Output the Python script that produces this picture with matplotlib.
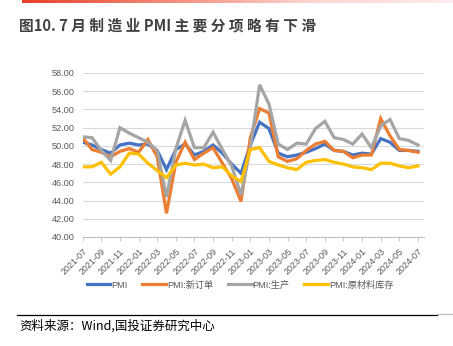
import matplotlib

matplotlib.use("Agg")
import matplotlib.pyplot as plt
import numpy as np
from matplotlib.colors import LinearSegmentedColormap
from matplotlib.lines import Line2D

plt.rcParams["font.family"] = ["Liberation Sans", "Noto Sans CJK SC", "DejaVu Sans"]

# ── Data ──────────────────────────────────────────────────────────────────────

MONTHS = [
    "2021-07", "2021-08", "2021-09", "2021-10", "2021-11", "2021-12",
    "2022-01", "2022-02", "2022-03", "2022-04", "2022-05", "2022-06",
    "2022-07", "2022-08", "2022-09", "2022-10", "2022-11", "2022-12",
    "2023-01", "2023-02", "2023-03", "2023-04", "2023-05", "2023-06",
    "2023-07", "2023-08", "2023-09", "2023-10", "2023-11", "2023-12",
    "2024-01", "2024-02", "2024-03", "2024-04", "2024-05", "2024-06",
    "2024-07",
]
PMI = [
    50.4, 50.1, 49.6, 49.2, 50.1, 50.3, 50.1, 50.2, 49.5, 47.4, 49.6, 50.2,
    49.0, 49.4, 50.1, 49.2, 48.0, 47.0, 50.1, 52.6, 51.9, 49.2, 48.8, 49.0,
    49.3, 49.7, 50.2, 49.5, 49.4, 49.0, 49.2, 49.1, 50.8, 50.4, 49.5, 49.5,
    49.4,
]
NEW_ORDERS = [
    50.9, 49.6, 49.3, 48.8, 49.4, 49.7, 49.3, 50.7, 48.8, 42.6, 48.2, 50.4,
    48.5, 49.2, 49.8, 48.1, 46.4, 43.9, 50.9, 54.1, 53.6, 48.8, 48.3, 48.6,
    49.5, 50.2, 50.5, 49.5, 49.4, 48.7, 49.0, 49.0, 53.0, 51.1, 49.6, 49.5,
    49.3,
]
PRODUCTION = [
    51.0, 50.9, 49.5, 48.4, 52.0, 51.4, 50.9, 50.4, 49.5, 44.4, 49.7, 52.8,
    49.8, 49.8, 51.5, 49.6, 47.8, 44.6, 49.8, 56.7, 54.6, 50.2, 49.6, 50.3,
    50.2, 51.9, 52.7, 50.9, 50.7, 50.2, 51.3, 49.8, 52.2, 52.9, 50.8, 50.6,
    50.1,
]
RAW_STOCK = [
    47.7, 47.7, 48.2, 46.9, 47.7, 49.2, 49.1, 48.1, 47.3, 46.5, 47.9, 48.1,
    47.9, 48.0, 47.6, 47.7, 46.7, 46.1, 49.6, 49.8, 48.3, 47.9, 47.6, 47.4,
    48.2, 48.4, 48.5, 48.2, 48.0, 47.7, 47.6, 47.4, 48.1, 48.1, 47.8, 47.6,
    47.8,
]

SERIES = [
    ("PMI", PMI, "#4472C4"),
    ("PMI:新订单", NEW_ORDERS, "#ED7D31"),
    ("PMI:生产", PRODUCTION, "#A5A5A5"),
    ("PMI:原材料库存", RAW_STOCK, "#FFC000"),
]

TITLE = "图10. 7 月 制 造 业 PMI 主 要 分 项 略 有 下 滑"
SOURCE = "资料来源：Wind,国投证券研究中心"

W, H = 453, 346
TICK_GRAY = "#595959"

fig = plt.figure(figsize=(W / 100, H / 100), dpi=100)

# ── Header bar + title ────────────────────────────────────────────────────────

bar_ax = fig.add_axes([22 / W, 1 - 3 / H, 1 - 22 / W, 3 / H])
bar_cmap = LinearSegmentedColormap.from_list("hdr", ["#E8402A", "#F28A7A", "#FDD5D0", "#FFECEC"])
bar_ax.imshow(np.linspace(0, 1, 256)[None, :], aspect="auto", cmap=bar_cmap)
bar_ax.axis("off")

fig.text(19 / W, 1 - 25 / H, TITLE, fontsize=10.6, fontweight="bold", color="#404040",
         family=["Noto Sans CJK SC", "DejaVu Sans"], ha="left", va="center")

# ── Main chart ────────────────────────────────────────────────────────────────

ax = fig.add_axes([82.7 / W, 1 - 237 / H, (424 - 82.7) / W, (237 - 73) / H])
x = np.arange(len(MONTHS))
for name, vals, color in SERIES:
    ax.plot(x, vals, color=color, linewidth=2.3, label=name, solid_joinstyle="miter")

ax.set_ylim(40, 58)
ax.set_xlim(0, len(MONTHS) - 1 + 0.65)
ax.set_yticks(np.arange(40, 58.1, 2))
ax.yaxis.set_major_formatter(matplotlib.ticker.FormatStrFormatter("%.2f"))
ax.set_xticks(x[::2])
ax.set_xticklabels(MONTHS[::2], rotation=45, ha="right", rotation_mode="anchor")
ax.tick_params(axis="y", length=0, pad=6, labelsize=6.6, labelcolor=TICK_GRAY)
ax.tick_params(axis="x", length=3, width=0.6, color="#BFBFBF", pad=4,
               labelsize=6.5, labelcolor=TICK_GRAY)
ax.grid(axis="y", color="#D9D9D9", linewidth=0.8)
ax.set_axisbelow(True)
for side in ("top", "right", "left"):
    ax.spines[side].set_visible(False)
ax.spines["bottom"].set_color("#BFBFBF")
ax.spines["bottom"].set_linewidth(0.8)

handles = [Line2D([], [], color=c, linewidth=2.3) for _, _, c in SERIES]
fig.legend(handles, [n for n, _, _ in SERIES], loc="center", ncol=4,
           bbox_to_anchor=(240 / W, 1 - 285 / H), frameon=False,
           labelcolor=TICK_GRAY, handlelength=2.6,
           handletextpad=0.1, columnspacing=1.6,
           prop={"family": ["Liberation Sans", "Noto Sans CJK SC"], "size": 6.6})

# ── Footer ────────────────────────────────────────────────────────────────────

fig.add_artist(Line2D([17 / W, 437 / W], [1 - 314.5 / H] * 2, color="black", linewidth=0.9))
fig.add_artist(Line2D([437 / W, 1.0], [1 - 314 / H] * 2, color="#BFBFBF", linewidth=0.9))
fig.text(19 / W, 1 - 326 / H, SOURCE, fontsize=9, style="italic", color="black",
         family=["Noto Sans CJK SC", "DejaVu Sans"], ha="left", va="center")

fig.savefig("out.png", dpi=100)
